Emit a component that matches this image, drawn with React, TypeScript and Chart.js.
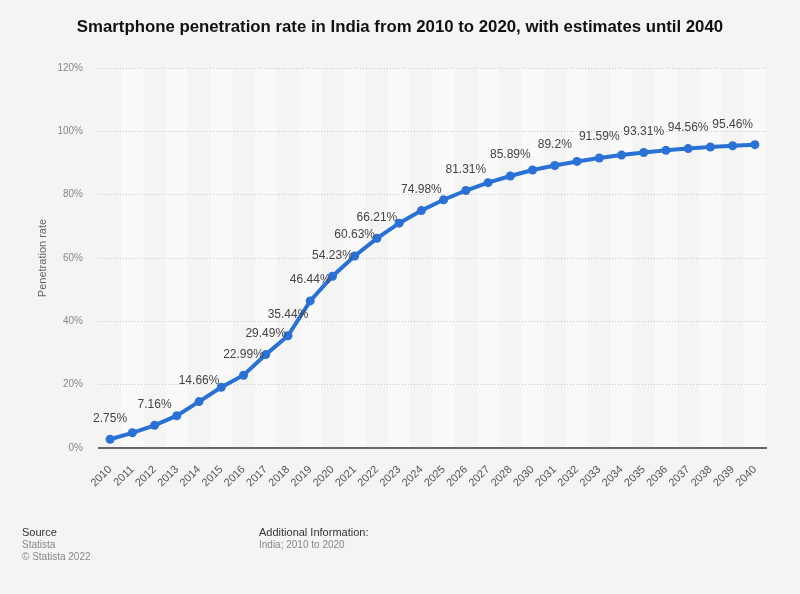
import React, { useEffect, useRef } from "react";
import { Chart, registerables } from "chart.js";

Chart.register(...registerables);

const years = ["2010","2011","2012","2013","2014","2015","2016","2017","2018","2019","2020","2021","2022","2023","2024","2025","2026","2027","2028","2030","2031","2032","2033","2034","2035","2036","2037","2038","2039","2040"];
const rates = [2.75,4.8,7.16,10.2,14.66,19.2,22.99,29.49,35.44,46.44,54.23,60.63,66.21,71.0,74.98,78.4,81.31,83.8,85.89,87.8,89.2,90.5,91.59,92.5,93.31,94.0,94.56,95.05,95.46,95.8];
const labeled = [true,false,true,false,true,false,true,true,true,true,true,true,true,false,true,false,true,false,true,false,true,false,true,false,true,false,true,false,true,false];
const yTicks = [0,20,40,60,80,100,120];

const BG = "#f4f4f4";

const bandsPlugin = {
  id: "bands",
  beforeDraw(chart: any) {
    const { ctx, chartArea, scales } = chart;
    const x = scales.x;
    const w = (chartArea.right - chartArea.left) / years.length;
    ctx.save();
    ctx.fillStyle = "#f9f9f9";
    years.forEach((_, i) => {
      if (i % 2 === 1) {
        const cx = x.getPixelForValue(i);
        ctx.fillRect(cx - w / 2, chartArea.top, w, chartArea.bottom - chartArea.top);
      }
    });
    ctx.restore();
  },
};

const labelsPlugin = {
  id: "pointLabels",
  afterDatasetsDraw(chart: any) {
    const { ctx } = chart;
    const meta = chart.getDatasetMeta(0);
    ctx.save();
    ctx.font = "12px 'Liberation Sans', Arial, sans-serif";
    ctx.fillStyle = "#444";
    ctx.textAlign = "center";
    ctx.textBaseline = "middle";
    meta.data.forEach((pt: any, i: number) => {
      if (!labeled[i]) return;
      ctx.fillText(rates[i] + "%", pt.x, pt.y - 21);
    });
    ctx.restore();
  },
};

export default function App() {
  const ref = useRef<HTMLCanvasElement>(null);
  useEffect(() => {
    const chart = new Chart(ref.current!, {
      type: "line",
      data: {
        labels: years,
        datasets: [
          {
            data: rates,
            borderColor: "#2a71d5",
            backgroundColor: "#2a71d5",
            borderWidth: 4,
            pointRadius: 4.5,
            pointHoverRadius: 4.5,
            pointBorderWidth: 0,
            tension: 0,
          },
        ],
      },
      options: {
        animation: false,
        responsive: false,
        layout: { padding: { left: 0, right: 34, top: 68, bottom: 0 } },
        plugins: { legend: { display: false }, tooltip: { enabled: false }, title: { display: false } },
        scales: {
          x: {
            offset: true,
            grid: { display: false },
            border: { display: true, color: "#666", width: 2 },
            ticks: {
              minRotation: 45,
              maxRotation: 45,
              autoSkip: false,
              padding: 7,
              color: "#555",
              font: { size: 11, family: "'Liberation Sans', Arial, sans-serif" },
            },
            afterFit: (s: any) => { s.height = 146; },
          },
          y: {
            min: 0,
            max: 120,
            afterBuildTicks: (s: any) => { s.ticks = yTicks.map((v) => ({ value: v })); },
            grid: { color: "#c8c8c8", lineWidth: 1, drawTicks: false },
            border: { display: false, dash: [1, 2] },
            ticks: {
              padding: 16,
              color: "#888",
              font: { size: 10, family: "'Liberation Sans', Arial, sans-serif" },
              callback: (v: any) => v + "%",
            },
            title: {
              display: true,
              text: "Penetration rate",
              color: "#666",
              font: { size: 11, family: "'Liberation Sans', Arial, sans-serif" },
              padding: { top: 36, bottom: 0 },
            },
            afterFit: (s: any) => { s.width = 99; },
          },
        },
      },
      plugins: [bandsPlugin, labelsPlugin],
    });
    return () => chart.destroy();
  }, []);

  const ff = "'Liberation Sans', Arial, sans-serif";
  return (
    <div style={{ position: "fixed", left: 0, top: 0, width: 800, height: 594, background: BG, fontFamily: ff }}>
      <canvas ref={ref} width={800} height={594} style={{ position: "absolute", left: 0, top: 0 }} />
      <div style={{ position: "absolute", left: 0, width: 800, top: 17, textAlign: "center", fontWeight: "bold", fontSize: 16.8, color: "#111", whiteSpace: "nowrap" }}>
        Smartphone penetration rate in India from 2010 to 2020, with estimates until 2040
      </div>
      <div style={{ position: "absolute", left: 22, top: 526, fontSize: 11, color: "#333", lineHeight: "13px" }}>
        Source
        <div style={{ color: "#888", fontSize: 10, lineHeight: "12px" }}>Statista</div>
        <div style={{ color: "#888", fontSize: 10, lineHeight: "12px" }}>© Statista 2022</div>
      </div>
      <div style={{ position: "absolute", left: 259, top: 526, fontSize: 11, color: "#333", lineHeight: "13px" }}>
        Additional Information:
        <div style={{ color: "#888", fontSize: 10, lineHeight: "12px" }}>India; 2010 to 2020</div>
      </div>
    </div>
  );
}
